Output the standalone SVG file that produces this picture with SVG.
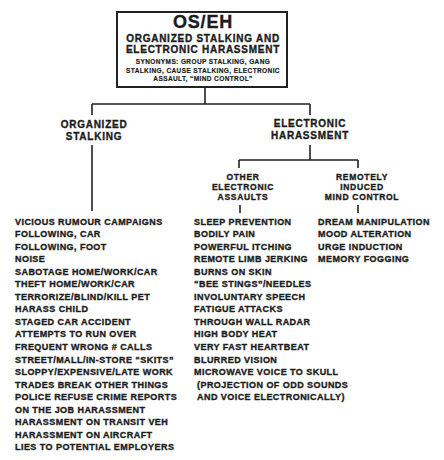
<svg xmlns="http://www.w3.org/2000/svg" width="444" height="460" viewBox="0 0 444 460">
<style>
text{font-family:"Liberation Sans",Arial,sans-serif;font-weight:bold;fill:#1c1c1c;stroke:#1c1c1c;stroke-width:0.35px}
.c{text-anchor:middle}
.h{font-size:10px;letter-spacing:0.75px}
.s{font-size:8.5px;letter-spacing:0.7px}
.syn{font-size:6.5px;letter-spacing:0.4px;stroke-width:0.2px}
.l{font-size:9px;letter-spacing:0.45px}
.ln{stroke:#222;stroke-width:1.6;fill:none}
</style>
<rect width="444" height="460" fill="#fff"/>
<g id="connectors" class="ln">
<path d="M205 88V104M92 104H310M92 104V115M310 104V115"/>
<path d="M92 145V211"/>
<path d="M310 145V160M239 160H358M239 160V168M358 160V168"/>
<path d="M240 205V213M358 205V213"/>
</g>
<g id="root">
<rect x="117" y="12" width="170" height="75" fill="#fff" stroke="#222" stroke-width="2"/>
<text class="c" x="203" y="28" style="font-size:18px;letter-spacing:0.8px">OS/EH</text>
<text class="c h" x="203" y="42">ORGANIZED STALKING AND</text>
<text class="c h" x="203" y="53">ELECTRONIC HARASSMENT</text>
<text class="c syn" x="203" y="64">SYNONYMS:  GROUP STALKING, GANG</text>
<text class="c syn" x="203" y="72.5">STALKING, CAUSE STALKING, ELECTRONIC</text>
<text class="c syn" x="203" y="81">ASSAULT, “MIND CONTROL”</text>
</g>
<g id="organized-stalking">
<text class="c h" x="94" y="128">ORGANIZED</text>
<text class="c h" x="94" y="139.5">STALKING</text>
</g>
<g id="electronic-harassment">
<text class="c h" x="310" y="127">ELECTRONIC</text>
<text class="c h" x="310" y="139">HARASSMENT</text>
</g>
<g id="other-electronic-assaults">
<text class="c s" x="243" y="180">OTHER</text>
<text class="c s" x="243" y="190">ELECTRONIC</text>
<text class="c s" x="243" y="200">ASSAULTS</text>
</g>
<g id="remotely-induced-mind-control">
<text class="c s" x="362" y="180">REMOTELY</text>
<text class="c s" x="362" y="190">INDUCED</text>
<text class="c s" x="362" y="200">MIND CONTROL</text>
</g>
<g id="stalking-list">
<text class="l" x="15" y="224.5">VICIOUS RUMOUR CAMPAIGNS</text>
<text class="l" x="15" y="237">FOLLOWING, CAR</text>
<text class="l" x="15" y="249.6">FOLLOWING, FOOT</text>
<text class="l" x="15" y="262.1">NOISE</text>
<text class="l" x="15" y="274.7">SABOTAGE HOME/WORK/CAR</text>
<text class="l" x="15" y="287.2">THEFT HOME/WORK/CAR</text>
<text class="l" x="15" y="299.8">TERRORIZE/BLIND/KILL PET</text>
<text class="l" x="15" y="312.3">HARASS CHILD</text>
<text class="l" x="15" y="324.9">STAGED CAR ACCIDENT</text>
<text class="l" x="15" y="337.4">ATTEMPTS TO RUN OVER</text>
<text class="l" x="15" y="350">FREQUENT WRONG # CALLS</text>
<text class="l" x="15" y="362.5">STREET/MALL/IN-STORE “SKITS”</text>
<text class="l" x="15" y="375.1">SLOPPY/EXPENSIVE/LATE WORK</text>
<text class="l" x="15" y="387.6">TRADES BREAK OTHER THINGS</text>
<text class="l" x="15" y="400.2">POLICE REFUSE CRIME REPORTS</text>
<text class="l" x="15" y="412.7">ON THE JOB HARASSMENT</text>
<text class="l" x="15" y="425.3">HARASSMENT ON TRANSIT VEH</text>
<text class="l" x="15" y="437.8">HARASSMENT ON AIRCRAFT</text>
<text class="l" x="15" y="450.4">LIES TO POTENTIAL EMPLOYERS</text>
</g>
<g id="assaults-list">
<text class="l" x="194" y="224.5">SLEEP PREVENTION</text>
<text class="l" x="194" y="237">BODILY PAIN</text>
<text class="l" x="194" y="249.6">POWERFUL ITCHING</text>
<text class="l" x="194" y="262.1">REMOTE LIMB JERKING</text>
<text class="l" x="194" y="274.7">BURNS ON SKIN</text>
<text class="l" x="194" y="287.2">“BEE STINGS”/NEEDLES</text>
<text class="l" x="194" y="299.8">INVOLUNTARY SPEECH</text>
<text class="l" x="194" y="312.3">FATIGUE ATTACKS</text>
<text class="l" x="194" y="324.9">THROUGH WALL RADAR</text>
<text class="l" x="194" y="337.4">HIGH BODY HEAT</text>
<text class="l" x="194" y="350">VERY FAST HEARTBEAT</text>
<text class="l" x="194" y="362.5">BLURRED VISION</text>
<text class="l" x="194" y="375.1">MICROWAVE VOICE TO SKULL</text>
<text class="l" x="197" y="387.6">(PROJECTION OF ODD SOUNDS</text>
<text class="l" x="197" y="400.2">AND VOICE ELECTRONICALLY)</text>
</g>
<g id="mind-control-list">
<text class="l" x="318" y="224.5">DREAM MANIPULATION</text>
<text class="l" x="318" y="237">MOOD ALTERATION</text>
<text class="l" x="318" y="249.6">URGE INDUCTION</text>
<text class="l" x="318" y="262.1">MEMORY FOGGING</text>
</g>
</svg>
